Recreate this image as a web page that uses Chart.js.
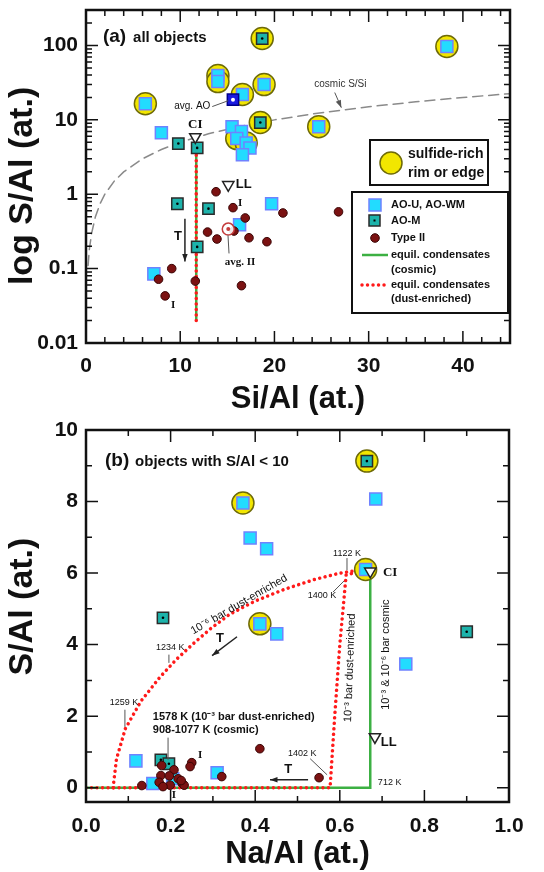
<!DOCTYPE html>
<html>
<head>
<meta charset="utf-8">
<script src="https://cdn.jsdelivr.net/npm/chart.js@4.4.1/dist/chart.umd.min.js"></script>
<style>
  html, body { margin: 0; padding: 0; background: #fff; }
  canvas { display: block; }
</style>
</head>
<body>
<canvas id="panelA" width="544" height="415"></canvas>
<canvas id="panelB" width="544" height="457"></canvas>
<script>
// ---- panel (a): Si/Al vs S/Al (log) ----
const aoU_a = [[38.3,97],[14.0,39.5],[14.0,32.7],[16.6,21.9],[18.9,29.8],[6.3,16.5],[24.7,8.1],[15.5,8.1],[16.5,6.95],[16.0,5.6],[17.0,4.9],[17.4,4.2],[16.6,3.4],[8.0,6.7],[19.7,0.745],[16.3,0.39],[7.2,0.085]];
const aoM_a = [[18.7,124],[18.5,9.2],[9.8,4.8],[11.8,4.2],[9.7,0.745],[13.0,0.64],[11.8,0.196]];
const type2_a = [[13.8,1.08],[15.6,0.66],[20.9,0.56],[26.8,0.58],[16.9,0.48],[15.7,0.32],[12.9,0.31],[13.9,0.25],[17.3,0.26],[19.2,0.23],[9.1,0.1],[7.7,0.072],[11.6,0.068],[16.5,0.059],[8.4,0.043]];
const sulfide_a = [[38.3,97],[18.7,124],[14.0,39.5],[14.0,32.7],[16.6,21.9],[18.9,29.8],[6.3,16.5],[18.5,9.2],[24.7,8.1],[16.0,5.6],[17.0,4.9]];
const avgAO_a = [[15.6,18.7]];
const avgII_a = [[15.1,0.34]];
const ci_a = [[11.6,5.9]];
const ll_a = [[15.1,1.34]];
const cosmicX = [0.22,0.35,0.6,1,1.5,2,3,4,6,8,10,13,16,20,25,30,35,40,45];
const cosmicY = [0.11,0.18,0.3,0.5,0.75,1.0,1.5,2.0,3.0,4.0,5.0,6.5,8.0,10,12.5,15,17.5,20,22.5];
const greenLine_a = [[11.7,0.02],[11.7,4.6]];
const redLine_a = [[11.7,0.02],[11.7,4.6]];
const xTickA = [0,10,20,30,40];
const yTickA = [0.01,0.1,1,10,100];

// ---- panel (b): Na/Al vs S/Al ----
const aoU_b = [[0.685,8.07],[0.371,7.96],[0.388,6.98],[0.427,6.68],[0.661,6.1],[0.451,4.30],[0.411,4.58],[0.756,3.46],[0.118,0.75],[0.31,0.42],[0.205,0.25],[0.158,0.12]];
const aoM_b = [[0.664,9.13],[0.182,4.75],[0.90,4.36],[0.177,0.78],[0.196,0.67]];
const type2_b = [[0.411,1.09],[0.551,0.28],[0.25,0.70],[0.246,0.59],[0.179,0.62],[0.208,0.50],[0.177,0.34],[0.197,0.33],[0.218,0.25],[0.321,0.31],[0.227,0.13],[0.173,0.15],[0.132,0.06],[0.199,0.07],[0.232,0.07],[0.182,0.03],[0.225,0.2]];
const sulfide_b = [[0.664,9.13],[0.371,7.96],[0.661,6.1],[0.411,4.58]];
const ci_b = [[0.672,6.05]];
const ll_b = [[0.683,1.42]];
const greenLine_b = [[0,0],[0.672,0],[0.672,6.05]];
const redBase_b = [[0,0],[0.577,0],[0.588,2],[0.60,4],[0.615,5.95],[0.66,6.08]];
const redCurve_b = [[0.064,0],[0.072,0.8],[0.093,1.65],[0.13,2.42],[0.174,3.08],[0.213,3.58],[0.253,4.02],[0.295,4.45],[0.34,4.85],[0.40,5.22],[0.47,5.55],[0.54,5.82],[0.6,6.0],[0.66,6.1]];
const xTickB = [0,0.2,0.4,0.6,0.8,1.0];
const yTickB = [0,2,4,6,8,10];

const SANS = '"Liberation Sans", Arial, sans-serif';
const SERIF = '"Liberation Serif", "Times New Roman", serif';

const textsA = [
  {t:'(a)', x:1.8, y:130, f:'bold 19px ' + SANS, al:'left'},
  {t:'all objects', x:5.0, y:128, f:'bold 15px ' + SANS, al:'left'},
  {t:'cosmic S/Si', x:27.0, y:29.8, f:'10px ' + SANS, c:'#333'},
  {t:'avg. AO', x:13.2, y:15.1, f:'10px ' + SANS, al:'right'},
  {t:'CI', x:11.6, y:8.6, f:'bold 13px ' + SERIF},
  {t:'LL', x:15.9, y:1.34, f:'bold 13px ' + SANS, al:'left'},
  {t:'I', x:16.35, y:0.75, f:'bold 11px ' + SERIF},
  {t:'I', x:9.24, y:0.0325, f:'bold 11px ' + SERIF},
  {t:'avg. II', x:16.35, y:0.123, f:'bold 11px ' + SERIF},
  {t:'T', x:9.77, y:0.268, f:'bold 13px ' + SANS}
];
const linesA = [
  {p:[[26.4,23.3],[27.1,14.6]], arrow:true},
  {p:[[13.4,15.1],[15.1,18.1]]},
  {p:[[15.07,0.28],[15.18,0.16]]},
  {p:[[10.5,0.47],[10.5,0.125]], arrow:true, w:1.5, c:'#222'}
];
const textsB = [
  {t:'(b)', x:0.045, y:9.13, f:'bold 19px ' + SANS, al:'left'},
  {t:'objects with S/Al < 10', x:0.116, y:9.1, f:'bold 15px ' + SANS, al:'left'},
  {t:'1122 K', x:0.617, y:6.56, f:'9px ' + SANS},
  {t:'CI', x:0.702, y:6.0, f:'bold 13px ' + SERIF, al:'left'},
  {t:'1400 K', x:0.558, y:5.36, f:'9px ' + SANS},
  {t:'10⁻⁶ bar dust-enriched', x:0.362, y:5.12, f:'11px ' + SANS, rot:-30},
  {t:'T', x:0.317, y:4.16, f:'bold 13px ' + SANS},
  {t:'1234 K', x:0.199, y:3.91, f:'9px ' + SANS},
  {t:'1259 K', x:0.09, y:2.37, f:'9px ' + SANS},
  {t:'1578 K (10⁻³ bar dust-enriched)', x:0.158, y:1.98, f:'bold 11px ' + SANS, al:'left'},
  {t:'908-1077 K (cosmic)', x:0.158, y:1.62, f:'bold 11px ' + SANS, al:'left'},
  {t:'I', x:0.27, y:0.92, f:'bold 11px ' + SERIF},
  {t:'I', x:0.208, y:-0.2, f:'bold 11px ' + SERIF},
  {t:'1402 K', x:0.511, y:0.95, f:'9px ' + SANS},
  {t:'T', x:0.478, y:0.5, f:'bold 13px ' + SANS},
  {t:'10⁻³ bar dust-enriched', x:0.624, y:3.35, f:'11px ' + SANS, rot:-88},
  {t:'10⁻³ & 10⁻⁶ bar cosmic', x:0.709, y:3.72, f:'11px ' + SANS, rot:-90},
  {t:'LL', x:0.697, y:1.26, f:'bold 13px ' + SANS, al:'left'},
  {t:'712 K', x:0.69, y:0.14, f:'9px ' + SANS, al:'left'}
];
const linesB = [
  {p:[[0.617,6.42],[0.617,6.08]]},
  {p:[[0.584,5.47],[0.61,5.78]]},
  {p:[[0.357,4.22],[0.298,3.69]], arrow:true, w:1.5, c:'#222'},
  {p:[[0.196,3.72],[0.196,3.49]]},
  {p:[[0.092,2.18],[0.092,1.70]]},
  {p:[[0.194,1.40],[0.194,0.78]]},
  {p:[[0.53,0.81],[0.57,0.36]]},
  {p:[[0.525,0.22],[0.435,0.22]], arrow:true, w:1.5, c:'#222'}
];

function pts(arr) { return arr.map(p => ({x: p[0], y: p[1]})); }

function markerSets(s) {
  return [
    {data: pts(s.sulfide), pointStyle:'circle', pointRadius:11, backgroundColor:'#f2e600', borderColor:'#6e6a08', borderWidth:1.5, order:9},
    {data: pts(s.aoU), pointStyle:'rect', pointRadius:8.5, backgroundColor:'#22dcff', borderColor:'#6f82ff', borderWidth:1.5, order:6},
    {data: pts(s.aoM), pointStyle:'rect', pointRadius:8, backgroundColor:'#1db3ab', borderColor:'#2a2a2a', borderWidth:1.5, order:6},
    {data: pts(s.aoM), pointStyle:'circle', pointRadius:1.3, backgroundColor:'#000', borderWidth:0, order:2},
    {data: pts(s.type2), pointStyle:'circle', pointRadius:4.3, backgroundColor:'#7b1212', borderColor:'#3a0505', borderWidth:1, order:5},
    {data: pts(s.tri), pointStyle:'triangle', rotation:180, pointRadius:6.5, backgroundColor:'#fff', borderColor:'#222', borderWidth:1.5, order:3}
  ];
}

function lineSet(arr, color, width, dash, order) {
  return {data: pts(arr), showLine:true, pointRadius:0, borderColor:color, borderWidth:width,
    borderDash:dash, borderCapStyle:'round', tension:0, fill:false, order:order};
}

function drawArrow(ctx, x1, y1, x2, y2) {
  const ang = Math.atan2(y2 - y1, x2 - x1);
  ctx.beginPath();
  ctx.moveTo(x2, y2);
  ctx.lineTo(x2 - 8 * Math.cos(ang - 0.35), y2 - 8 * Math.sin(ang - 0.35));
  ctx.lineTo(x2 - 8 * Math.cos(ang + 0.35), y2 - 8 * Math.sin(ang + 0.35));
  ctx.closePath();
  ctx.fill();
}

function decoPlugin(cfg) {
  return {
    id: 'deco',
    afterDatasetsDraw(chart) {
      const {ctx, chartArea: a, scales: {x, y}} = chart;
      ctx.save();
      // leader lines and arrows
      cfg.lines.forEach(l => {
        const p = l.p.map(q => [x.getPixelForValue(q[0]), y.getPixelForValue(q[1])]);
        ctx.strokeStyle = l.c || '#555';
        ctx.fillStyle = l.c || '#555';
        ctx.lineWidth = l.w || 1;
        ctx.beginPath();
        ctx.moveTo(p[0][0], p[0][1]);
        ctx.lineTo(p[1][0], p[1][1]);
        ctx.stroke();
        if (l.arrow) drawArrow(ctx, p[0][0], p[0][1], p[1][0], p[1][1]);
      });
      // labels
      cfg.texts.forEach(t => {
        ctx.save();
        ctx.translate(x.getPixelForValue(t.x), y.getPixelForValue(t.y));
        if (t.rot) ctx.rotate(t.rot * Math.PI / 180);
        ctx.font = t.f;
        ctx.fillStyle = t.c || '#111';
        ctx.textAlign = t.al || 'center';
        ctx.textBaseline = 'middle';
        ctx.fillText(t.t, 0, 0);
        ctx.restore();
      });
      // inward tick marks on all four sides
      ctx.strokeStyle = '#111';
      ctx.lineWidth = 1.5;
      const tick = (px, isX, len) => {
        ctx.beginPath();
        if (isX) {
          ctx.moveTo(px, a.bottom); ctx.lineTo(px, a.bottom - len);
          ctx.moveTo(px, a.top); ctx.lineTo(px, a.top + len);
        } else {
          ctx.moveTo(a.left, px); ctx.lineTo(a.left + len, px);
          ctx.moveTo(a.right, px); ctx.lineTo(a.right - len, px);
        }
        ctx.stroke();
      };
      cfg.xMajor.forEach(v => tick(x.getPixelForValue(v), true, 12));
      cfg.xMinor.forEach(v => tick(x.getPixelForValue(v), true, 6));
      cfg.yMajor.forEach(v => tick(y.getPixelForValue(v), false, 12));
      cfg.yMinor.forEach(v => tick(y.getPixelForValue(v), false, 6));
      // frame
      ctx.lineWidth = 2.5;
      ctx.strokeRect(a.left, a.top, a.right - a.left, a.bottom - a.top);
      if (cfg.legend) cfg.legend(ctx);
      ctx.restore();
    }
  };
}

function legendA(ctx) {
  ctx.lineWidth = 2;
  ctx.strokeStyle = '#111';
  ctx.fillStyle = '#fff';
  ctx.fillRect(370, 140, 118, 45);
  ctx.strokeRect(370, 140, 118, 45);
  ctx.beginPath();
  ctx.arc(391, 163, 11, 0, 2 * Math.PI);
  ctx.fillStyle = '#f2e600';
  ctx.fill();
  ctx.lineWidth = 1.5;
  ctx.strokeStyle = '#6e6a08';
  ctx.stroke();
  ctx.fillStyle = '#111';
  ctx.font = 'bold 14px ' + SANS;
  ctx.textAlign = 'left';
  ctx.textBaseline = 'middle';
  ctx.fillText('sulfide-rich', 408, 154);
  ctx.fillText('rim or edge', 408, 173);

  ctx.lineWidth = 2;
  ctx.strokeStyle = '#111';
  ctx.fillStyle = '#fff';
  ctx.fillRect(352, 192, 156, 121);
  ctx.strokeRect(352, 192, 156, 121);
  // AO-U
  ctx.fillStyle = '#22dcff'; ctx.strokeStyle = '#6f82ff'; ctx.lineWidth = 1.5;
  ctx.fillRect(369, 199, 12, 12); ctx.strokeRect(369, 199, 12, 12);
  // AO-M
  ctx.fillStyle = '#1db3ab'; ctx.strokeStyle = '#2a2a2a';
  ctx.fillRect(369, 215, 11, 11); ctx.strokeRect(369, 215, 11, 11);
  ctx.fillStyle = '#000'; ctx.fillRect(373.5, 219.5, 2, 2);
  // Type II
  ctx.beginPath(); ctx.arc(375, 238, 4.3, 0, 2 * Math.PI);
  ctx.fillStyle = '#7b1212'; ctx.fill(); ctx.strokeStyle = '#3a0505'; ctx.lineWidth = 1; ctx.stroke();
  // lines
  ctx.strokeStyle = '#3cb043'; ctx.lineWidth = 2.5;
  ctx.beginPath(); ctx.moveTo(362, 255); ctx.lineTo(388, 255); ctx.stroke();
  ctx.strokeStyle = '#ff1a1a'; ctx.lineWidth = 3.5; ctx.lineCap = 'round'; ctx.setLineDash([0.01, 5.5]);
  ctx.beginPath(); ctx.moveTo(362, 285); ctx.lineTo(388, 285); ctx.stroke();
  ctx.setLineDash([]); ctx.lineCap = 'butt';
  ctx.fillStyle = '#111';
  ctx.font = 'bold 11px ' + SANS;
  ctx.fillText('AO-U, AO-WM', 391, 205);
  ctx.fillText('AO-M', 391, 221);
  ctx.fillText('Type II', 391, 238);
  ctx.fillText('equil. condensates', 391, 255);
  ctx.fillText('(cosmic)', 391, 270);
  ctx.fillText('equil. condensates', 391, 285);
  ctx.fillText('(dust-enriched)', 391, 299);
}

function minorLog(majors, max) {
  const out = [];
  majors.forEach(d => { for (let k = 2; k <= 9; k++) if (d * k <= max) out.push(d * k); });
  out.push(200, 300);
  return out;
}

const tickFont = {family: SANS, size: 21, weight: 'bold'};
const titleFont = {family: SANS, size: 31, weight: 'bold', lineHeight: 1.0};
const yTitleFont = {family: SANS, size: 34, weight: 'bold', lineHeight: 1.0};

// fixed axis boxes so the plot area lands where the reference has it
function fitX(h) {
  return s => { s.height = h; s.paddingLeft = 0; s.paddingRight = 0; s.paddingTop = 0; s.paddingBottom = 0; };
}
function fitY(w) {
  return s => { s.width = w; s.paddingLeft = 0; s.paddingRight = 0; s.paddingTop = 0; s.paddingBottom = 0; };
}

function baseOptions(pad, xs, ys) {
  return {
    responsive: false,
    animation: false,
    events: [],
    layout: {padding: pad, autoPadding: false},
    plugins: {legend: {display: false}, tooltip: {enabled: false}},
    scales: {x: xs, y: ys}
  };
}

// panel (a)
const dotsA = markerSets({sulfide: sulfide_a, aoU: aoU_a, aoM: aoM_a, type2: type2_a, tri: ci_a.concat(ll_a)});
new Chart(document.getElementById('panelA'), {
  type: 'scatter',
  data: {datasets: [
    lineSet(cosmicX.map((v, i) => [v, cosmicY[i]]), '#8a8a8a', 1.5, [10, 6], 12),
    lineSet(greenLine_a, '#3cb043', 2.5, [], 11),
    lineSet(redLine_a, '#ff1a1a', 3.5, [0.01, 5.5], 10),
    ...dotsA,
    {data: pts(avgAO_a), pointStyle:'rect', pointRadius:8, backgroundColor:'#1a1ae0', borderColor:'#00008a', borderWidth:1.5, order:4},
    {data: pts(avgAO_a), pointStyle:'circle', pointRadius:2, backgroundColor:'#fff', borderWidth:0, order:1},
    {data: pts(avgII_a), pointStyle:'circle', pointRadius:6, backgroundColor:'rgba(255,255,255,0.9)', borderColor:'#c43c3c', borderWidth:1.5, order:4},
    {data: pts(avgII_a), pointStyle:'circle', pointRadius:2, backgroundColor:'#c43c3c', borderWidth:0, order:1}
  ]},
  options: baseOptions({top: 10, right: 34, left: 0, bottom: 0},
    {type: 'linear', min: 0, max: 45,
      afterBuildTicks: s => { s.ticks = xTickA.map(v => ({value: v})); },
      afterFit: fitX(72),
      grid: {display: false, drawTicks: false}, border: {display: false},
      ticks: {font: tickFont, color: '#111', padding: 11, maxRotation: 0},
      title: {display: true, text: 'Si/Al (at.)', font: titleFont, color: '#111', padding: {top: 0, bottom: 0}}},
    {type: 'logarithmic', min: 0.01, max: 300,
      afterBuildTicks: s => { s.ticks = yTickA.map(v => ({value: v})); },
      afterFit: fitY(86),
      grid: {display: false, drawTicks: false}, border: {display: false},
      ticks: {font: tickFont, color: '#111', padding: 8, callback: v => String(v)},
      title: {display: true, text: 'log S/Al (at.)  ', font: yTitleFont, color: '#111', padding: {top: 6, bottom: 0}}}),
  plugins: [decoPlugin({texts: textsA, lines: linesA, xMajor: xTickA,
    xMinor: [2,4,6,8,12,14,16,18,22,24,26,28,32,34,36,38,42,44],
    yMajor: yTickA, yMinor: minorLog(yTickA, 100), legend: legendA})]
});

// panel (b)
const dotsB = markerSets({sulfide: sulfide_b, aoU: aoU_b, aoM: aoM_b, type2: type2_b, tri: ci_b.concat(ll_b)});
new Chart(document.getElementById('panelB'), {
  type: 'scatter',
  data: {datasets: [
    lineSet(greenLine_b, '#3cb043', 2.5, [], 11),
    lineSet(redBase_b, '#ff1a1a', 3.5, [0.01, 5.5], 10),
    lineSet(redCurve_b, '#ff1a1a', 3.5, [0.01, 5.5], 10),
    ...dotsB
  ]},
  options: baseOptions({top: 15, right: 35, left: 0, bottom: 0},
    {type: 'linear', min: 0, max: 1.0,
      afterBuildTicks: s => { s.ticks = xTickB.map(v => ({value: v})); },
      afterFit: fitX(70),
      grid: {display: false, drawTicks: false}, border: {display: false},
      ticks: {font: tickFont, color: '#111', padding: 12, maxRotation: 0, callback: v => v.toFixed(1)},
      title: {display: true, text: 'Na/Al (at.)', font: titleFont, color: '#111', padding: {top: 0, bottom: 2}}},
    {type: 'linear', min: -0.4, max: 10,
      afterBuildTicks: s => { s.ticks = yTickB.map(v => ({value: v})); },
      afterFit: fitY(86),
      grid: {display: false, drawTicks: false}, border: {display: false},
      ticks: {font: tickFont, color: '#111', padding: 8, callback: v => String(v)},
      title: {display: true, text: '  S/Al (at.)', font: yTitleFont, color: '#111', padding: {top: 6, bottom: 0}}}),
  plugins: [decoPlugin({texts: textsB, lines: linesB, xMajor: xTickB,
    xMinor: [0.1,0.3,0.5,0.7,0.9], yMajor: yTickB, yMinor: [1,3,5,7,9]})]
});
</script>
</body>
</html>
